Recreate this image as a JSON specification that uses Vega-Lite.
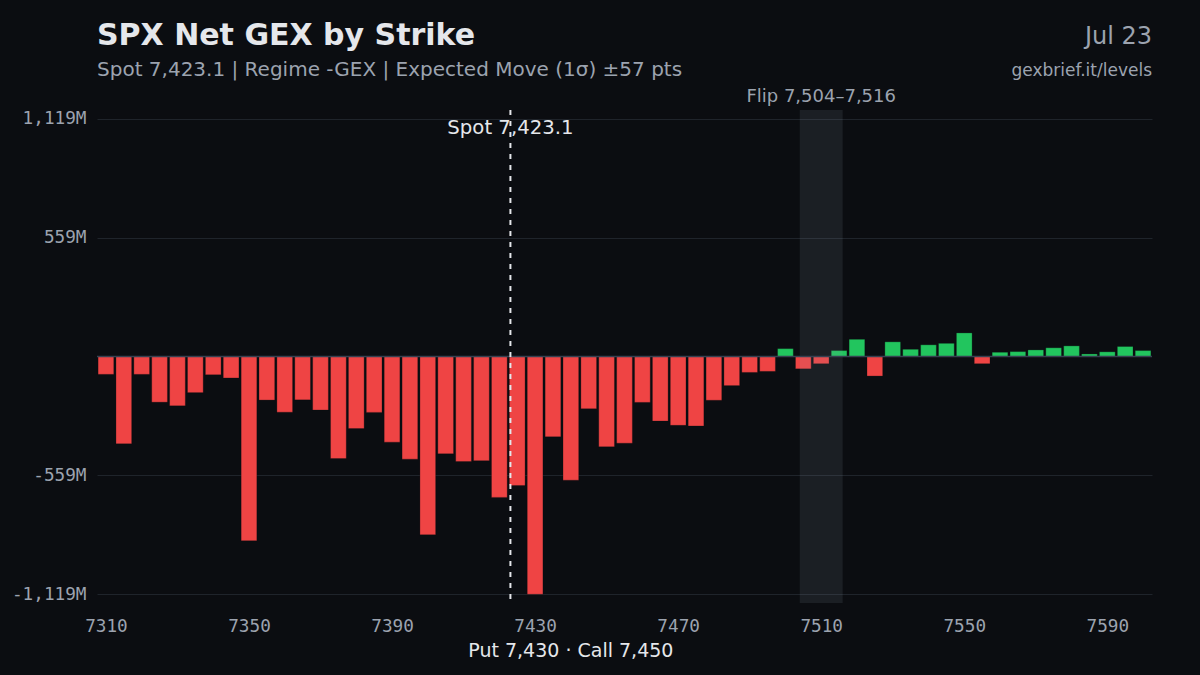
{
  "$schema": "https://vega.github.io/schema/vega-lite/v6.json",
  "description": "SPX net gamma exposure by strike.",
  "autosize": {"type": "none"},
  "width": 1055,
  "height": 493,
  "padding": {"left": 97, "top": 110, "right": 48, "bottom": 72},
  "background": "#0b0d11",
  "title": {
    "text": "SPX Net GEX by Strike",
    "subtitle": "Spot 7,423.1 | Regime -GEX | Expected Move (1σ) ±57 pts",
    "anchor": "start",
    "frame": "group",
    "font": "DejaVu Sans",
    "fontSize": 30,
    "fontWeight": "bold",
    "color": "#e5e7eb",
    "subtitleFont": "DejaVu Sans",
    "subtitleFontSize": 20,
    "subtitleColor": "#9ca3af",
    "subtitlePadding": 9,
    "offset": -55
  },
  "data": {
    "values": [
      {"strike": 7310, "gex": -84},
      {"strike": 7315, "gex": -411},
      {"strike": 7320, "gex": -84},
      {"strike": 7325, "gex": -215},
      {"strike": 7330, "gex": -232},
      {"strike": 7335, "gex": -170},
      {"strike": 7340, "gex": -86},
      {"strike": 7345, "gex": -101},
      {"strike": 7350, "gex": -867},
      {"strike": 7355, "gex": -205},
      {"strike": 7360, "gex": -262},
      {"strike": 7365, "gex": -204},
      {"strike": 7370, "gex": -252},
      {"strike": 7375, "gex": -480},
      {"strike": 7380, "gex": -339},
      {"strike": 7385, "gex": -263},
      {"strike": 7390, "gex": -403},
      {"strike": 7395, "gex": -483},
      {"strike": 7400, "gex": -839},
      {"strike": 7405, "gex": -458},
      {"strike": 7410, "gex": -494},
      {"strike": 7415, "gex": -490},
      {"strike": 7420, "gex": -663},
      {"strike": 7425, "gex": -607},
      {"strike": 7430, "gex": -1119},
      {"strike": 7435, "gex": -378},
      {"strike": 7440, "gex": -582},
      {"strike": 7445, "gex": -246},
      {"strike": 7450, "gex": -425},
      {"strike": 7455, "gex": -408},
      {"strike": 7460, "gex": -216},
      {"strike": 7465, "gex": -304},
      {"strike": 7470, "gex": -324},
      {"strike": 7475, "gex": -327},
      {"strike": 7480, "gex": -206},
      {"strike": 7485, "gex": -137},
      {"strike": 7490, "gex": -75},
      {"strike": 7495, "gex": -70},
      {"strike": 7500, "gex": 37},
      {"strike": 7505, "gex": -58},
      {"strike": 7510, "gex": -34},
      {"strike": 7515, "gex": 28},
      {"strike": 7520, "gex": 81},
      {"strike": 7525, "gex": -92},
      {"strike": 7530, "gex": 69},
      {"strike": 7535, "gex": 34},
      {"strike": 7540, "gex": 55},
      {"strike": 7545, "gex": 62},
      {"strike": 7550, "gex": 111},
      {"strike": 7555, "gex": -34},
      {"strike": 7560, "gex": 20},
      {"strike": 7565, "gex": 23},
      {"strike": 7570, "gex": 31},
      {"strike": 7575, "gex": 41},
      {"strike": 7580, "gex": 50},
      {"strike": 7585, "gex": 12},
      {"strike": 7590, "gex": 22},
      {"strike": 7595, "gex": 47},
      {"strike": 7600, "gex": 28}
    ]
  },
  "encoding": {
    "x": {
      "field": "strike",
      "type": "quantitative",
      "scale": {"domain": [7307.5, 7602.5], "nice": false, "zero": false, "padding": 0},
      "axis": {
        "values": [7310, 7350, 7390, 7430, 7470, 7510, 7550, 7590],
        "format": "d",
        "title": null,
        "grid": false,
        "domain": false,
        "ticks": false,
        "labelPadding": 14,
        "labelFont": "DejaVu Sans Mono",
        "labelFontSize": 17.7,
        "labelColor": "#9ca3af"
      }
    },
    "y": {
      "field": "gex",
      "type": "quantitative",
      "scale": {"domain": [-1160, 1160], "nice": false, "padding": 0},
      "axis": {
        "values": [-1119, -559, 559, 1119],
        "labelExpr": "(datum.value < 0 ? '-' : '') + format(abs(datum.value), ',') + 'M'",
        "title": null,
        "domain": false,
        "ticks": false,
        "labelPadding": 11,
        "labelFont": "DejaVu Sans Mono",
        "labelFontSize": 17.7,
        "labelColor": "#9ca3af",
        "gridColor": "#1f242b",
        "gridWidth": 1
      }
    }
  },
  "layer": [
    {
      "mark": {"type": "bar", "size": 15.7, "stroke": "#0b0d11", "strokeOpacity": 0.35, "strokeWidth": 0.8},
      "encoding": {
        "color": {
          "condition": {"test": "datum.gex >= 0", "value": "#22c55e"},
          "value": "#ef4444"
        }
      }
    },
    {
      "data": {"values": [{"lo": 7504, "hi": 7516}]},
      "mark": {"type": "rect", "color": "#94a3b8", "opacity": 0.12},
      "encoding": {
        "x": {"field": "lo", "type": "quantitative"},
        "x2": {"field": "hi"},
        "y": null
      }
    },
    {
      "data": {"values": [{"zero": 0}]},
      "mark": {"type": "rule", "color": "#374151", "strokeWidth": 1.5},
      "encoding": {
        "x": null,
        "y": {"field": "zero", "type": "quantitative"}
      }
    },
    {
      "data": {"values": [{"spot": 7423.1}]},
      "mark": {"type": "rule", "color": "#e5e7eb", "strokeWidth": 2, "strokeDash": [5, 6]},
      "encoding": {
        "x": {"field": "spot", "type": "quantitative"},
        "y": null
      }
    },
    {
      "data": {
        "values": [
          {"x": 7423.1, "y": 1074, "label": "Spot 7,423.1", "color": "#e5e7eb", "size": 19.7},
          {"x": 7440, "y": -1388, "label": "Put 7,430 · Call 7,450", "color": "#e5e7eb", "size": 19},
          {"x": 7510, "y": 1222, "label": "Flip 7,504–7,516", "color": "#9ca3af", "size": 18}
        ]
      },
      "mark": {"type": "text", "font": "DejaVu Sans", "align": "center", "baseline": "middle"},
      "encoding": {
        "x": {"field": "x", "type": "quantitative"},
        "y": {"field": "y", "type": "quantitative"},
        "text": {"field": "label"},
        "color": {"field": "color", "type": "nominal", "scale": null},
        "size": {"field": "size", "type": "quantitative", "scale": null}
      }
    },
    {
      "data": {
        "values": [
          {"x": 7602.5, "y": 1504, "label": "Jul 23", "size": 24},
          {"x": 7602.5, "y": 1345, "label": "gexbrief.it/levels", "size": 17}
        ]
      },
      "mark": {"type": "text", "font": "DejaVu Sans", "align": "right", "baseline": "middle", "color": "#9ca3af"},
      "encoding": {
        "x": {"field": "x", "type": "quantitative"},
        "y": {"field": "y", "type": "quantitative"},
        "text": {"field": "label"},
        "size": {"field": "size", "type": "quantitative", "scale": null}
      }
    }
  ],
  "config": {
    "view": {"stroke": null}
  }
}
